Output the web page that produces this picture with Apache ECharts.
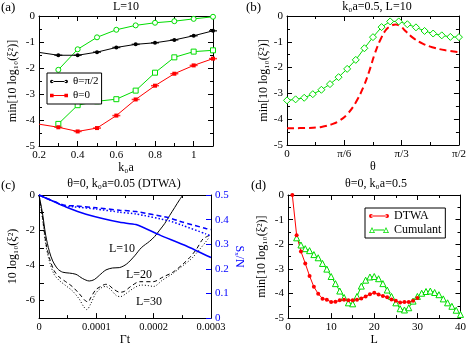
<!DOCTYPE html>
<html>
<head>
<meta charset="utf-8">
<script src="https://cdn.jsdelivr.net/npm/echarts@6/dist/echarts.min.js"></script>
<style>
  html, body { margin: 0; padding: 0; background: #fff; }
  #chart { width: 469px; height: 347px; }
</style>
</head>
<body>
<div id="chart"></div>
<script>
const SERIF = 'Liberation Serif';
const GREEN = '#00dd00', RED = '#ff0000', BLUE = '#0000ff';

// (a) L=10, vs k0a
const aK = [0.2, 0.3, 0.4, 0.5, 0.6, 0.7, 0.8, 0.9, 1.0, 1.1];
const aPerp = [-1.40, -1.51, -1.51, -1.39, -1.21, -1.09, -1.03, -0.92, -0.76, -0.57];
const aZero = [-4.16, -4.28, -4.44, -4.31, -3.83, -3.21, -2.68, -2.22, -1.90, -1.64];
const aK2 = [0.3, 0.4, 0.5, 0.6, 0.7, 0.8, 0.9, 1.0, 1.1];
const aGreenUp = [-2.07, -1.28, -0.82, -0.53, -0.36, -0.26, -0.20, -0.11, -0.03];
const aGreenLow = [-4.15, -3.43, -3.28, -3.20, -2.87, -2.18, -1.59, -1.37, -1.32];

// (b) k0a=0.5, L=10, vs theta (degrees)
const bTheta = [0, 4.5, 9, 13.5, 18, 22.5, 27, 31.5, 36, 40.5, 45, 49.5, 54, 58.5, 63, 67.5, 72, 76.5, 81, 85.5, 90];
const bGreen = [-3.27, -3.23, -3.17, -3.03, -2.86, -2.64, -2.37, -2.05, -1.70, -1.25, -0.82, -0.43, -0.21, -0.21, -0.32, -0.44, -0.58, -0.68, -0.75, -0.81, -0.82];
const bRedTheta = [0, 10, 18, 24, 28, 32, 36, 40, 43, 46, 49, 52, 55, 57, 59.5, 62, 66, 71, 76, 83, 90];
const bRed = [-4.35, -4.34, -4.30, -4.18, -4.03, -3.77, -3.35, -2.75, -2.15, -1.45, -0.90, -0.52, -0.36, -0.33, -0.40, -0.58, -0.85, -1.07, -1.21, -1.33, -1.40];
const bTicks = { 0: '0', 30: 'π/6', 60: 'π/3', 90: 'π/2' };

// (c) theta=0, k0a=0.05 (DTWA), vs Gamma t
const cT10 = [0, 0.0000059, 0.0000117, 0.000018, 0.0000239, 0.0000326, 0.0000413, 0.0000529, 0.0000645, 0.0000761, 0.0000877, 0.0000965, 0.0001052, 0.0001168, 0.0001284, 0.00014, 0.000153, 0.0001668, 0.0001784, 0.000193, 0.0002017, 0.0002104, 0.0002191, 0.0002278, 0.0002365, 0.0002452, 0.000251];
const cL10 = [0, -1.0, -2.29, -3.2, -3.75, -4.2, -4.39, -4.44, -4.51, -4.75, -4.89, -4.81, -4.57, -4.26, -4.15, -4.13, -3.92, -3.46, -3.0, -2.63, -2.36, -2.0, -1.63, -1.17, -0.72, -0.27, 0];
const cT20 = [0, 0.0000059, 0.0000117, 0.000018, 0.0000262, 0.000035, 0.0000466, 0.0000582, 0.0000698, 0.0000814, 0.000086, 0.00009, 0.0000989, 0.0001076, 0.0001163, 0.000121, 0.000128, 0.000141, 0.000149, 0.00016, 0.0001756, 0.0001989, 0.0002164, 0.000234, 0.000251, 0.0002627, 0.0002743, 0.000286, 0.0002975];
const cL20 = [0, -1.19, -2.65, -3.56, -4.29, -4.66, -4.93, -5.21, -5.6, -6.03, -6.07, -5.85, -5.39, -5.2, -5.08, -5.1, -5.3, -5.53, -5.48, -5.2, -4.93, -4.93, -4.66, -4.38, -3.93, -3.56, -3.1, -2.5, -2.3];
const cT30 = [0, 0.0000059, 0.0000117, 0.000018, 0.0000262, 0.000035, 0.0000466, 0.0000582, 0.0000698, 0.000078, 0.0000835, 0.00009, 0.0000989, 0.0001076, 0.000116, 0.000124, 0.000135, 0.000142, 0.000152, 0.000165, 0.000178, 0.00019, 0.0002, 0.000215, 0.000234, 0.000251, 0.000266, 0.00028, 0.00029, 0.000296];
const cL30 = [0, -1.3, -2.8, -3.75, -4.5, -4.85, -5.15, -5.45, -5.9, -6.35, -6.52, -6.2, -5.6, -5.3, -5.2, -5.35, -5.72, -5.78, -5.6, -5.3, -5.12, -5.15, -5.2, -4.85, -4.45, -4.02, -3.62, -3.1, -2.7, -2.45];
const cTs = [0, 0.000024, 0.000047, 0.000082, 0.000141, 0.000169, 0.000211, 0.000258, 0.0003];
const cS10 = [0.5, 0.475, 0.451, 0.422, 0.389, 0.38, 0.337, 0.292, 0.246];
const cTs2 = [0, 0.000024, 0.000045, 0.00006, 0.0001, 0.000141, 0.000169, 0.000227, 0.00025, 0.000291, 0.0003];
const cS20 = [0.5, 0.476, 0.458, 0.456, 0.448, 0.438, 0.433, 0.407, 0.39, 0.364, 0.36];
const cS30 = [0.5, 0.476, 0.455, 0.452, 0.443, 0.43, 0.423, 0.395, 0.377, 0.342, 0.333];

// (d) theta=0, k0a=0.5, vs L
const dLdtwa = [1, 2, 3, 4, 5, 6, 7, 8, 9, 10, 11, 12, 13, 14, 15, 16, 17, 18, 19, 20, 21, 22, 23, 24, 25, 26, 27, 28, 29, 30];
const dDtwa = [0, -1.63, -2.29, -2.78, -3.29, -3.73, -4.01, -4.21, -4.25, -4.35, -4.34, -4.28, -4.25, -4.28, -4.27, -4.25, -4.2, -4.12, -4.03, -3.97, -4.04, -4.1, -4.15, -4.24, -4.3, -4.37, -4.35, -4.35, -4.3, -4.18];
const dLcum = [2, 3, 4, 5, 6, 7, 8, 9, 10, 11, 12, 13, 14, 15, 16, 17, 18, 19, 20, 21, 22, 23, 24, 25, 26, 27, 28, 29, 30, 31, 32, 33, 34, 35, 36, 37, 38, 39, 40];
const dCum = [-1.74, -2.03, -2.18, -2.26, -2.42, -2.55, -2.78, -3.01, -3.31, -3.6, -3.9, -4.16, -4.38, -4.42, -4.12, -3.7, -3.46, -3.33, -3.31, -3.4, -3.6, -3.86, -4.12, -4.38, -4.62, -4.67, -4.58, -4.31, -4.12, -3.99, -3.92, -3.9, -3.96, -4.05, -4.22, -4.38, -4.52, -4.68, -4.85];

const zip = (xs, ys) => xs.map((x, i) => [x, ys[i]]);

function axis(grid, pos, min, max, interval, o) {
  o = o || {};
  const tc = o.tickColor || '#000';
  return {
    type: 'value', gridIndex: grid, position: pos, min: min, max: max, interval: interval,
    axisLine: { show: true, onZero: false, lineStyle: { color: '#000', width: 1 } },
    axisTick: { show: true, inside: true, length: 5, lineStyle: { color: tc } },
    minorTick: { show: o.minor !== false, splitNumber: 2, length: 3, lineStyle: { color: tc } },
    splitLine: { show: false },
    axisLabel: {
      show: !!o.label, formatter: o.formatter, showMaxLabel: o.showMax,
      fontFamily: SERIF, fontSize: o.fontSize || 11, color: o.labelColor || '#000', margin: 4
    },
    name: o.name || '', nameLocation: 'middle', nameGap: o.nameGap || 12, nameRotate: o.nameRotate,
    nameTextStyle: { fontFamily: SERIF, fontSize: 12, color: o.nameColor || '#000' }
  };
}

// hollow markers: white fill, thin green border
const hollow = { color: '#fff', borderColor: GREEN, borderWidth: 1 };

const yName = 'min[10 log₁₀(ξ²)]';

// legend icons: line with marker at both ends
const iconDot = 'path://M0,3a2,2 0 1,0 4,0a2,2 0 1,0 -4,0z M16,3a2,2 0 1,0 4,0a2,2 0 1,0 -4,0z M2,2.5h16v1h-16z';
const iconSq = 'path://M0,1h4v4h-4z M16,1h4v4h-4z M2,2.5h16v1h-16z';
const iconTri = 'path://M0,6L3,0L6,6z M1.2,5.3L4.8,5.3L3,1.7z M14,6L17,0L20,6z M15.2,5.3L18.8,5.3L17,1.7z M5,2.5h10v1h-10z';

const titleStyle = { fontFamily: SERIF, fontSize: 12, fontWeight: 'normal', color: '#000' };

const option = {
  animation: false,
  backgroundColor: '#fff',
  title: [
    { text: 'L=10', left: 126, top: 1, textAlign: 'center', padding: 0, textStyle: titleStyle },
    { text: 'k₀a=0.5, L=10', left: 377, top: 1, textAlign: 'center', padding: 0, textStyle: titleStyle },
    { text: 'θ=0, k₀a=0.05 (DTWA)', left: 124, top: 178, textAlign: 'center', padding: 0, textStyle: titleStyle },
    { text: 'θ=0, k₀a=0.5', left: 376, top: 178, textAlign: 'center', padding: 0, textStyle: titleStyle }
  ],
  graphic: [
    { type: 'text', left: 1, top: 1, style: { text: '(a)', fontFamily: SERIF, fontSize: 13, fill: '#000' } },
    { type: 'text', left: 246, top: 1, style: { text: '(b)', fontFamily: SERIF, fontSize: 13, fill: '#000' } },
    { type: 'text', left: 1, top: 179, style: { text: '(c)', fontFamily: SERIF, fontSize: 13, fill: '#000' } },
    { type: 'text', left: 251, top: 179, style: { text: '(d)', fontFamily: SERIF, fontSize: 13, fill: '#000' } },
    { type: 'text', left: 109, top: 243, style: { text: 'L=10', fontFamily: SERIF, fontSize: 12, fill: '#000' } },
    { type: 'text', left: 126, top: 269, style: { text: 'L=20', fontFamily: SERIF, fontSize: 12, fill: '#000' } },
    { type: 'text', left: 136, top: 296, style: { text: 'L=30', fontFamily: SERIF, fontSize: 12, fill: '#000' } }
  ],
  legend: [
    {
      left: 47, top: 73, orient: 'vertical', itemWidth: 18, itemHeight: 5, itemGap: 3, padding: [3, 3],
      borderColor: '#000', borderWidth: 1, borderRadius: 0, backgroundColor: '#fff',
      textStyle: { fontFamily: SERIF, fontSize: 11, color: '#000' },
      data: [{ name: 'θ=π/2', icon: iconDot }, { name: 'θ=0', icon: iconSq }]
    },
    {
      left: 365, top: 208, orient: 'vertical', itemWidth: 20, itemHeight: 6, itemGap: 2, padding: [2, 4],
      borderColor: '#000', borderWidth: 1, borderRadius: 0, backgroundColor: '#fff',
      textStyle: { fontFamily: SERIF, fontSize: 12, color: '#000' },
      data: [
        { name: 'DTWA', icon: iconDot },
        { name: 'Cumulant', icon: iconTri, itemStyle: { color: GREEN, borderWidth: 0 } }
      ]
    }
  ],
  grid: [
    { left: 39, top: 16, width: 174, height: 130 },
    { left: 287, top: 16, width: 175, height: 129 },
    { left: 39, top: 195, width: 172, height: 128 },
    { left: 288, top: 195, width: 173, height: 127 }
  ],
  xAxis: [
    axis(0, 'bottom', 0.2, 1.1, 0.2, { label: true, showMax: false, name: 'k₀a', nameGap: 11 }),
    axis(0, 'top', 0.2, 1.1, 0.2),
    axis(1, 'bottom', 0, 90, 30, { label: true, formatter: v => bTicks[v] || '', name: 'θ', nameGap: 11 }),
    axis(1, 'top', 0, 90, 30),
    axis(2, 'bottom', 0, 0.0003, 0.0001, { label: true, name: 'Γt', nameGap: 13, fontSize: 10.5 }),
    axis(2, 'top', 0, 0.0003, 0.0001),
    axis(3, 'bottom', 0, 40, 10, { label: true, name: 'L', nameGap: 13 }),
    axis(3, 'top', 0, 40, 10)
  ],
  yAxis: [
    axis(0, 'left', -5, 0, 1, { label: true, name: yName, nameGap: 20 }),
    axis(0, 'right', -5, 0, 1),
    axis(1, 'left', -5, 0, 1, { label: true, name: yName, nameGap: 15 }),
    axis(1, 'right', -5, 0, 1),
    axis(2, 'left', -7, 0, 1, { label: true, minor: false, formatter: v => (v % 2 === 0 ? String(v) : ''), name: '10 log₁₀(ξ²)', nameGap: 20 }),
    axis(2, 'right', 0, 0.5, 0.1, { label: true, minor: false, tickColor: BLUE, labelColor: BLUE, name: 'Sₓ/N', nameColor: BLUE, nameRotate: -90, nameGap: 22 }),
    axis(3, 'left', -5, 0, 1, { label: true, name: yName, nameGap: 20 }),
    axis(3, 'right', -5, 0, 1)
  ],
  series: [
    // (a)
    { name: 'a-green-up', type: 'line', xAxisIndex: 0, yAxisIndex: 0, data: zip(aK2, aGreenUp),
      symbol: 'circle', symbolSize: 5, lineStyle: { width: 1, color: GREEN }, itemStyle: hollow },
    { name: 'a-green-low', type: 'line', xAxisIndex: 0, yAxisIndex: 0, data: zip(aK2, aGreenLow),
      symbol: 'rect', symbolSize: 5, lineStyle: { width: 1, color: GREEN }, itemStyle: hollow },
    { name: 'θ=π/2', type: 'line', xAxisIndex: 0, yAxisIndex: 0, color: '#000',
      data: zip(aK, aPerp).map((p, i) => (i === 0 ? { value: p, symbol: 'none' } : p)),
      symbol: 'circle', symbolSize: 4, lineStyle: { width: 1 } },
    { name: 'a-perp-err', type: 'scatter', xAxisIndex: 0, yAxisIndex: 0, data: zip(aK, aPerp).slice(1), color: '#000',
      symbol: 'rect', symbolSize: [8, 1.5], silent: true },
    { name: 'θ=0', type: 'line', xAxisIndex: 0, yAxisIndex: 0, color: RED,
      data: zip(aK, aZero).map((p, i) => (i === 0 ? { value: p, symbol: 'none' } : p)),
      symbol: 'rect', symbolSize: 4, lineStyle: { width: 1 } },
    { name: 'a-zero-err', type: 'scatter', xAxisIndex: 0, yAxisIndex: 0, data: zip(aK, aZero).slice(1), color: RED,
      symbol: 'rect', symbolSize: [8, 1.5], silent: true },
    // (b)
    { name: 'b-red', type: 'line', xAxisIndex: 2, yAxisIndex: 2, data: zip(bRedTheta, bRed), color: RED,
      smooth: 0.4, symbol: 'none', lineStyle: { width: 2, type: [7, 4] } },
    { name: 'b-green', type: 'line', xAxisIndex: 2, yAxisIndex: 2, data: zip(bTheta, bGreen),
      symbol: 'diamond', symbolSize: 7, lineStyle: { width: 1, color: GREEN }, itemStyle: hollow },
    // (c)
    { name: 'c-L10', type: 'line', xAxisIndex: 4, yAxisIndex: 4, data: zip(cT10, cL10), color: '#000',
      smooth: 0.3, symbol: 'none', lineStyle: { width: 1 } },
    { name: 'c-L20', type: 'line', xAxisIndex: 4, yAxisIndex: 4, data: zip(cT20, cL20), color: '#000',
      smooth: 0.3, symbol: 'none', lineStyle: { width: 1, type: [4, 3] } },
    { name: 'c-L30', type: 'line', xAxisIndex: 4, yAxisIndex: 4, data: zip(cT30, cL30), color: '#000',
      smooth: 0.3, symbol: 'none', lineStyle: { width: 1, type: [1, 2] } },
    { name: 'c-S10', type: 'line', xAxisIndex: 4, yAxisIndex: 5, data: zip(cTs, cS10), color: BLUE,
      smooth: 0.2, symbol: 'none', lineStyle: { width: 1.5 } },
    { name: 'c-S20', type: 'line', xAxisIndex: 4, yAxisIndex: 5, data: zip(cTs2, cS20), color: BLUE,
      smooth: 0.2, symbol: 'none', lineStyle: { width: 1.5, type: [5, 3] } },
    { name: 'c-S30', type: 'line', xAxisIndex: 4, yAxisIndex: 5, data: zip(cTs2, cS30), color: BLUE,
      smooth: 0.2, symbol: 'none', lineStyle: { width: 1.5, type: [1.5, 2] } },
    // (d)
    { name: 'Cumulant', type: 'line', xAxisIndex: 6, yAxisIndex: 6, data: zip(dLcum, dCum),
      symbol: 'triangle', symbolSize: 6, lineStyle: { width: 1, color: GREEN }, itemStyle: hollow },
    { name: 'DTWA', type: 'line', xAxisIndex: 6, yAxisIndex: 6, data: zip(dLdtwa, dDtwa), color: RED,
      symbol: 'circle', symbolSize: 4, lineStyle: { width: 1 } }
  ]
};

const myChart = echarts.init(document.getElementById('chart'));
myChart.setOption(option);
window.addEventListener('resize', () => { myChart.resize(); });
</script>
</body>
</html>
